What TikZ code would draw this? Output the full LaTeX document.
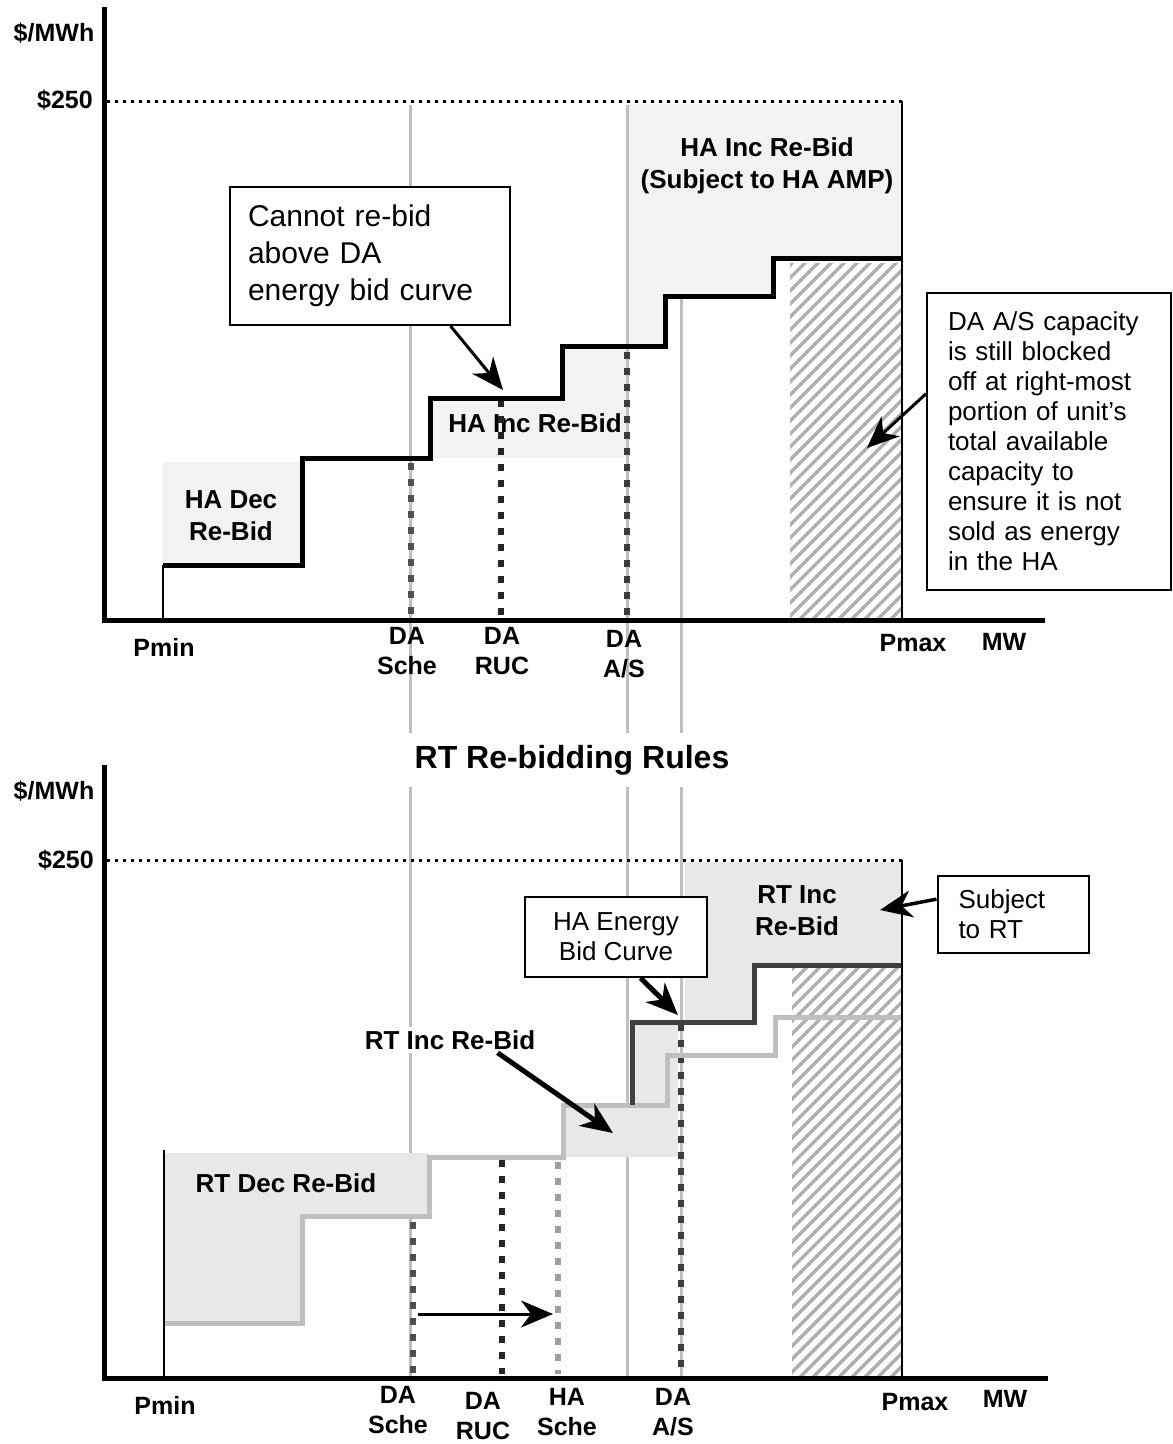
\documentclass[tikz,border=0pt]{standalone}
\usepackage{fontspec}
\setmainfont{Liberation Sans}
\usetikzlibrary{arrows.meta}
\definecolor{guidegray}{HTML}{BFBFBF}
\definecolor{haarea}{HTML}{F2F2F2}
\definecolor{rtarea}{HTML}{E8E8E8}
\definecolor{hatchgray}{HTML}{B0B0B0}
\definecolor{hacurve}{HTML}{404040}
\definecolor{dasche}{HTML}{505050}
\definecolor{daruc}{HTML}{242424}
\definecolor{daas}{HTML}{3C3C3C}
\definecolor{hasche}{HTML}{9E9E9E}
\tikzset{
	guide/.style={guidegray,line width=3pt},
	hatchline/.style={hatchgray,line width=3.5pt},
	schedline/.style={line width=6pt,dash pattern=on 7pt off 9pt},
	bidline/.style={line width=5pt,line join=miter},
	axisline/.style={line width=5pt,line join=miter},
	thinline/.style={line width=2pt},
	capline/.style={line width=3pt,dash pattern=on 3pt off 5pt},
	lbl/.style={font=\bfseries\fontsize{26}{32}\selectfont,align=center,inner sep=0pt},
	axlbl/.style={font=\bfseries\fontsize{25}{30}\selectfont,align=center,inner sep=0pt},
	callbox/.style={draw,fill=white,line width=2pt,align=left,inner xsep=21pt,font=\fontsize{26}{30}\selectfont},
	callarrow/.style={line width=3pt,-{Stealth[length=32pt,width=27pt,inset=10pt]}}
}
\begin{document}
\begin{tikzpicture}[x=1pt,y=-1pt]
	\useasboundingbox (0,0) rectangle (1173,1444);
	\draw[guide] (410,105)--(410,1378);
	\draw[guide] (627,105)--(627,1378);
	\draw[guide] (681,105)--(681,1378);
	\fill[haarea] (163,462) rectangle (300,565);
	\fill[haarea] (430,398)--(562,398)--(562,346)--(626,346)--(626,458)--(430,458)--cycle;
	\fill[haarea] (629,104)--(902,104)--(902,258)--(773,258)--(773,296)--(665,296)--(665,346)--(629,346)--cycle;
	\fill[rtarea] (163,1153)--(429,1153)--(429,1216)--(302,1216)--(302,1323)--(163,1323)--cycle;
	\fill[rtarea] (563,1157)--(563,1105)--(632,1105)--(632,1022)--(678,1022)--(678,1157)--cycle;
	\fill[rtarea] (685,862)--(902,862)--(902,965)--(754,965)--(754,1022)--(685,1022)--cycle;
	\begin{scope}
		\clip (790,263) rectangle (902,620);
		\foreach \hx in {370,383,...,910}
			\draw[hatchline] (\hx,620)--++(420,-420);
	\end{scope}
	\begin{scope}
		\clip (792,968) rectangle (902,1378);
		\foreach \hx in {357,370,...,910}
			\draw[hatchline] (\hx,1378)--++(430,-430);
	\end{scope}
	\node[lbl] (hadec) at (231,516) {HA Dec\\Re-Bid};
	\node[lbl] (hainc) at (535,423) {HA Inc Re-Bid};
	\node[lbl] (haamp) at (767,166) {HA Inc Re-Bid\\(Subject to HA AMP)};
	\node[lbl] (rtdec) at (286,1183) {RT Dec Re-Bid};
	\node[lbl] (rtinctop) at (797,911) {RT Inc\\Re-Bid};
	\draw[schedline,dasche] (411,463)--(411,616);
	\draw[schedline,daruc] (501,400)--(501,616);
	\draw[schedline,daas] (627,352)--(627,616);
	\draw[schedline,dasche] (413,1222)--(413,1374);
	\draw[schedline,daruc] (502,1160)--(502,1374);
	\draw[schedline,hasche] (558,1162)--(558,1374);
	\draw[schedline,daas] (681,1024)--(681,1374);
	\draw[bidline] (163,565)--(302,565)--(302,458)--(430,458)--(430,398)--(562,398)--(562,346)--(665,346)--(665,296)--(773,296)--(773,258)--(902,258);
	\draw[bidline,guidegray] (163,1323)--(302,1323)--(302,1216)--(429,1216)--(429,1157)--(563,1157)--(563,1105)--(667,1105)--(667,1055)--(775,1055)--(775,1017)--(902,1017);
	\draw[bidline,hacurve] (632,1105)--(632,1022)--(754,1022)--(754,965)--(902,965);
	\draw[thinline] (163,565)--(163,620);
	\draw[thinline] (164,1150)--(164,1378);
	\draw[thinline] (902,101)--(902,620);
	\draw[thinline] (902,860)--(902,1378);
	\draw[capline] (107,101)--(902,101);
	\draw[capline] (107,860)--(902,860);
	\draw[axisline] (104,7)--(104,620)--(1045,620);
	\draw[axisline] (104,765)--(104,1378)--(1048,1378);
	\node[axlbl] (unittop) at (54,33) {\$/MWh};
	\node[axlbl] (captop) at (65,100) {\$250};
	\node[axlbl] (pmintop) at (164,647) {Pmin};
	\node[axlbl] (daschetop) at (407,651) {DA\\Sche};
	\node[axlbl] (daructop) at (502,651) {DA\\RUC};
	\node[axlbl] (daastop) at (624,654) {DA\\A/S};
	\node[axlbl] (pmaxtop) at (913,643) {Pmax};
	\node[axlbl] (mwtop) at (1004,642) {MW};
	\node[axlbl] (unitbot) at (54,791) {\$/MWh};
	\node[axlbl] (capbot) at (66,860) {\$250};
	\node[axlbl] (pminbot) at (165,1405) {Pmin};
	\node[axlbl] (daschebot) at (398,1410) {DA\\Sche};
	\node[axlbl] (darucbot) at (483,1416) {DA\\RUC};
	\node[axlbl] (haschebot) at (567,1412) {HA\\Sche};
	\node[axlbl] (daasbot) at (673,1412) {DA\\A/S};
	\node[axlbl] (pmaxbot) at (915,1402) {Pmax};
	\node[axlbl] (mwbot) at (1005,1399) {MW};
	\node[callbox,font=\fontsize{30}{37}\selectfont,inner xsep=18pt,text width=244pt,minimum height=138pt] (cannot) at (370,256) {Cannot re-bid\\above DA\\energy bid curve};
	\node[callbox,text width=202pt,minimum height=297pt] (asbox) at (1049,441) {DA A/S capacity\\is still blocked\\off at right-most\\portion of unit’s\\total available\\capacity to\\ensure it is not\\sold as energy\\in the HA};
	\node[callbox,align=center,inner xsep=10pt,minimum width=182pt,minimum height=80pt] (haebox) at (616,937) {HA Energy\\Bid Curve};
	\node[callbox,text width=109pt,minimum height=77pt] (subjbox) at (1013,914) {Subject\\to RT};
	\node[lbl,fill=white,inner sep=3pt] (rtinc) at (450,1040) {RT Inc Re-Bid};
	\node[font=\bfseries\fontsize{32}{38}\selectfont,fill=white,inner xsep=8pt,inner ysep=12pt] (title) at (572,760) {RT Re-bidding Rules};
	\coordinate (rucTip) at (503,390);
	\coordinate (asTip) at (867,448);
	\coordinate (haeTip) at (678,1015);
	\coordinate (subjTip) at (880,910);
	\coordinate (rtincTip) at (613,1133);
	\coordinate (schFrom) at (418,1314);
	\coordinate (schTo) at (553,1314);
	\draw[callarrow] (cannot.-41.5)--(rucTip);
	\draw[callarrow] (asbox.159)--(asTip);
	\draw[callarrow,line width=5pt] (haebox.-59)--(haeTip);
	\draw[callarrow,line width=3.5pt] (subjbox.169)--(subjTip);
	\draw[callarrow,line width=5pt] (rtinc.-15)--(rtincTip);
	\draw[callarrow] (schFrom)--(schTo);
\end{tikzpicture}
\end{document}
